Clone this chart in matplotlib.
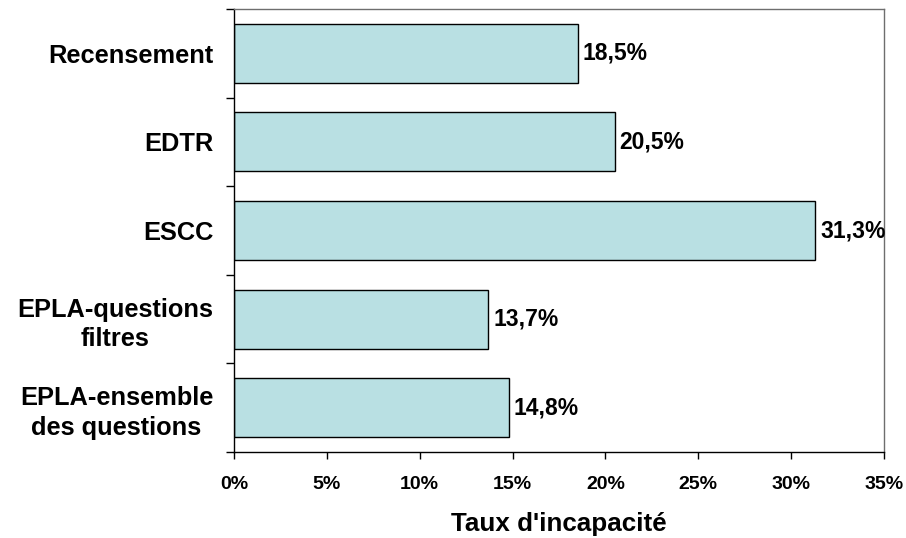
import numpy as np
import matplotlib
matplotlib.use("Agg")
import matplotlib.pyplot as plt
from matplotlib.ticker import FixedLocator

plt.rcParams['font.family'] = ['Liberation Sans', 'DejaVu Sans']
plt.rcParams['font.weight'] = 'bold'

categories = ["Recensement", "EDTR", "ESCC",
              "EPLA-questions\nfiltres", "EPLA-ensemble\ndes questions"]
taux = [18.5, 20.5, 31.3, 13.7, 14.8]
xticks = [0, 5, 10, 15, 20, 25, 30, 35]

fig = plt.figure(figsize=(9.06, 5.38), dpi=100)
ax = fig.add_axes([234 / 906, 1 - 452 / 538, 650 / 906, 443 / 538])

y = np.arange(len(categories))
ax.barh(y, taux, height=0.667, color="#B9E0E3", edgecolor="black", linewidth=1)

# etiquettes des valeurs
for yi, v in zip(y, taux):
    ax.text(v + 0.25, yi, f"{v:.1f}%".replace(".", ","), va="center", ha="left",
            fontsize=16.5, fontweight="bold")

ax.set_xlim(0, 35)
ax.set_ylim(len(categories) - 0.5, -0.5)
ax.set_xticks(xticks)
ax.set_xticklabels([f"{t}%" for t in xticks], fontsize=14, fontweight="bold")
ax.tick_params(axis="x", direction="out", length=5, width=1, pad=12)

ax.set_yticks(y)
ax.set_yticklabels(categories, fontsize=18.3, fontweight="bold", linespacing=1.3,
                   multialignment="center")
ax.tick_params(axis="y", which="major", length=0, pad=15)
ax.yaxis.set_minor_locator(FixedLocator(np.arange(-0.5, len(categories), 1)))
ax.tick_params(axis="y", which="minor", direction="out", length=5.5, width=1)

ax.set_xlabel("Taux d'incapacité", fontsize=18.7, fontweight="bold", labelpad=14)

for side in ["left", "bottom"]:
    ax.spines[side].set_color("black")
    ax.spines[side].set_linewidth(1)
for side in ["top", "right"]:
    ax.spines[side].set_color("#6e6e6e")
    ax.spines[side].set_linewidth(1)

fig.savefig("out.png", dpi=100)
